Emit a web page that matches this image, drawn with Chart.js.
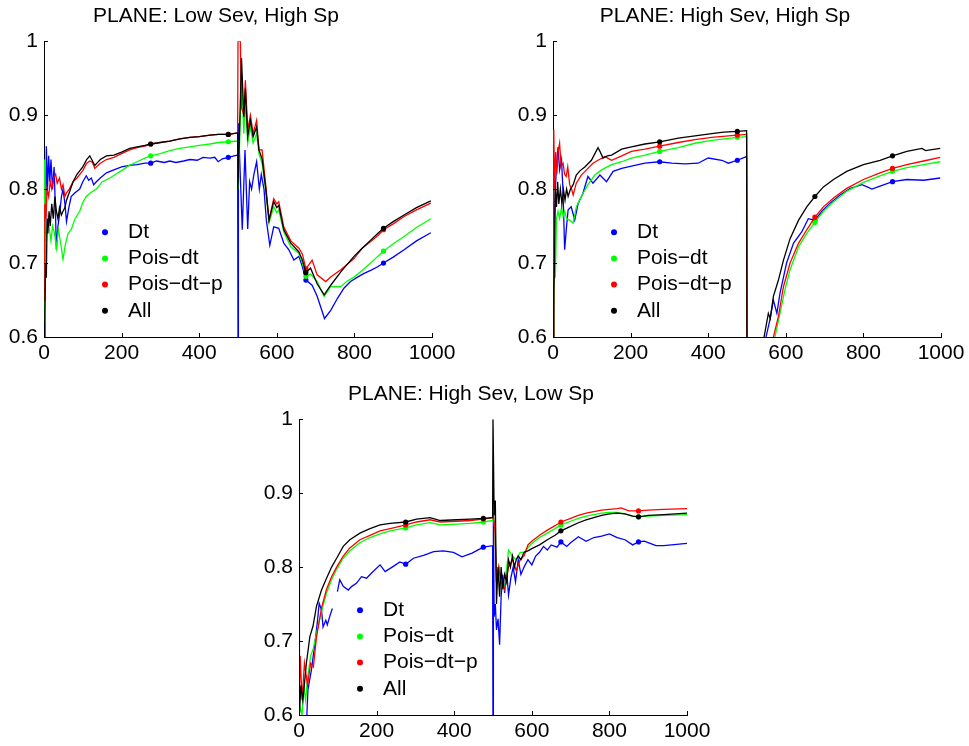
<!DOCTYPE html>
<html>
<head>
<meta charset="utf-8">
<script src="https://cdn.jsdelivr.net/npm/chart.js@4.4.1/dist/chart.umd.min.js"></script>
<style>
  html, body { margin: 0; padding: 0; background: #fff; overflow: hidden; }
  body { width: 969px; height: 746px; position: relative; }
  canvas { position: absolute; }
</style>
</head>
<body>
<canvas id="low-sev-high-sp" width="476" height="370" style="left:0;top:0"></canvas>
<canvas id="high-sev-high-sp" width="476" height="370" style="left:509px;top:0"></canvas>
<canvas id="high-sev-low-sp" width="476" height="368" style="left:255px;top:378px"></canvas>
<script>
// Series names, colours and axis ticks
const seriesNames = ['Dt', 'Pois\u2212dt', 'Pois\u2212dt\u2212p', 'All'];
const seriesColors = ['#0000ff', '#00ff00', '#ff0000', '#000000'];
const xTicks = [0, 200, 400, 600, 800, 1000];
const yTicks = [0.6, 0.7, 0.8, 0.9, 1];
const markerSteps = [275, 475, 675, 875];

// PLANE: Low Sev, High Sp  ([step, accuracy])
const lowHighDt = [[0,0.60],[2,0.77],[4,0.74],[6,0.858],[9,0.80],[12,0.845],[15,0.81],[18,0.84],[22,0.80],[26,0.83],[29,0.78],[32,0.718],[36,0.75],[40,0.765],[45,0.79],[49,0.80],[54,0.78],[58,0.756],[64,0.775],[70,0.79],[80,0.795],[92,0.80],[100,0.81],[109,0.818],[115,0.812],[122,0.815],[128,0.806],[135,0.81],[145,0.815],[161,0.822],[180,0.826],[200,0.83],[220,0.832],[240,0.833],[260,0.835],[275,0.835],[290,0.838],[310,0.836],[324,0.838],[340,0.836],[360,0.838],[376,0.84],[395,0.839],[410,0.843],[428,0.842],[440,0.843],[449,0.837],[460,0.841],[475,0.843],[490,0.845],[499,0.846],[500,0.6],[501,0.889],[511,0.745],[518,0.853],[525,0.746],[530,0.81],[535,0.80],[541,0.82],[548,0.837],[555,0.80],[560,0.82],[567,0.80],[573,0.758],[582,0.724],[592,0.749],[605,0.747],[618,0.727],[631,0.718],[644,0.704],[657,0.709],[666,0.695],[675,0.677],[691,0.67],[704,0.655],[723,0.625],[739,0.636],[756,0.652],[773,0.666],[790,0.675],[808,0.681],[825,0.686],[842,0.69],[860,0.695],[875,0.70],[900,0.708],[928,0.718],[960,0.73],[997,0.741]];
const lowHighPoisDt = [[0,0.62],[1,0.84],[3,0.76],[6,0.73],[10,0.76],[14,0.745],[18,0.73],[22,0.75],[27,0.74],[32,0.72],[37,0.745],[42,0.73],[49,0.705],[55,0.725],[62,0.74],[70,0.745],[80,0.76],[92,0.77],[100,0.782],[109,0.79],[120,0.795],[135,0.80],[150,0.81],[170,0.815],[185,0.82],[200,0.825],[220,0.832],[240,0.837],[260,0.842],[275,0.845],[300,0.848],[324,0.852],[350,0.855],[376,0.857],[400,0.859],[428,0.861],[450,0.863],[475,0.864],[499,0.865],[501,0.80],[509,0.956],[515,0.875],[519,0.92],[525,0.862],[532,0.884],[539,0.862],[548,0.875],[554,0.848],[562,0.835],[571,0.80],[580,0.754],[592,0.776],[600,0.768],[605,0.772],[618,0.742],[636,0.722],[657,0.713],[666,0.70],[675,0.682],[687,0.685],[704,0.675],[722,0.655],[739,0.668],[765,0.668],[780,0.675],[799,0.681],[820,0.69],[842,0.70],[860,0.709],[875,0.716],[900,0.726],[928,0.736],[960,0.748],[997,0.76]];
const lowHighPoisDtP = [[0,0.65],[2,0.78],[5,0.76],[8,0.80],[12,0.79],[16,0.81],[20,0.80],[25,0.815],[30,0.82],[34,0.808],[40,0.815],[45,0.80],[49,0.806],[54,0.79],[58,0.795],[65,0.80],[75,0.81],[85,0.815],[100,0.825],[110,0.835],[118,0.838],[125,0.836],[131,0.828],[145,0.835],[161,0.84],[180,0.843],[200,0.848],[221,0.853],[240,0.856],[260,0.858],[275,0.861],[300,0.863],[324,0.865],[350,0.868],[376,0.87],[400,0.871],[428,0.873],[450,0.874],[475,0.874],[499,0.876],[500,1.0],[506,1.0],[509,0.91],[515,0.90],[519,0.947],[525,0.88],[532,0.90],[539,0.875],[548,0.893],[554,0.853],[562,0.853],[571,0.808],[580,0.758],[592,0.787],[600,0.78],[605,0.783],[618,0.749],[636,0.73],[657,0.72],[666,0.712],[675,0.692],[691,0.704],[704,0.684],[726,0.675],[739,0.681],[765,0.691],[799,0.706],[820,0.72],[842,0.729],[860,0.737],[875,0.745],[900,0.753],[928,0.763],[960,0.772],[997,0.781]];
const lowHighAll = [[0,0.60],[2,0.63],[4,0.70],[6,0.68],[8,0.76],[10,0.74],[13,0.77],[16,0.75],[20,0.78],[24,0.76],[28,0.79],[32,0.77],[36,0.76],[40,0.775],[45,0.765],[49,0.77],[54,0.775],[58,0.785],[65,0.795],[75,0.81],[85,0.82],[100,0.83],[110,0.84],[118,0.845],[125,0.838],[131,0.832],[145,0.84],[161,0.845],[180,0.846],[200,0.85],[221,0.855],[240,0.857],[260,0.859],[275,0.861],[300,0.863],[324,0.865],[350,0.868],[376,0.87],[400,0.871],[428,0.873],[450,0.874],[475,0.874],[499,0.876],[500,0.80],[509,0.977],[515,0.898],[519,0.936],[525,0.871],[532,0.893],[539,0.871],[548,0.884],[554,0.853],[562,0.841],[571,0.803],[580,0.758],[592,0.783],[600,0.775],[605,0.778],[618,0.745],[636,0.727],[657,0.715],[666,0.704],[675,0.687],[687,0.693],[704,0.672],[722,0.657],[739,0.67],[765,0.688],[799,0.709],[820,0.72],[842,0.731],[860,0.74],[875,0.747],[900,0.756],[928,0.765],[960,0.775],[997,0.784]];

// PLANE: High Sev, High Sp
const highHighDt = [[0,0.60],[3,0.75],[6,0.80],[9,0.83],[13,0.857],[17,0.826],[22,0.84],[26,0.794],[30,0.718],[35,0.75],[39,0.772],[47,0.776],[56,0.758],[65,0.781],[77,0.794],[90,0.817],[103,0.808],[121,0.819],[138,0.81],[155,0.824],[177,0.828],[202,0.831],[237,0.835],[275,0.837],[306,0.835],[340,0.834],[374,0.835],[400,0.842],[435,0.839],[452,0.835],[475,0.839],[499,0.844],[500,0.55],[545,0.57],[549,0.60],[559,0.623],[568,0.65],[577,0.632],[585,0.659],[602,0.70],[620,0.727],[641,0.742],[658,0.76],[675,0.758],[693,0.77],[714,0.781],[740,0.792],[766,0.801],[796,0.806],[810,0.803],[822,0.80],[843,0.804],[875,0.81],[912,0.813],[955,0.812],[998,0.815]];
const highHighPoisDt = [[0,0.60],[2,0.63],[4,0.70],[6,0.68],[9,0.76],[13,0.77],[17,0.76],[22,0.775],[26,0.763],[30,0.77],[35,0.76],[43,0.758],[52,0.754],[60,0.776],[73,0.79],[90,0.806],[108,0.819],[125,0.826],[151,0.833],[177,0.837],[202,0.842],[237,0.846],[275,0.851],[323,0.856],[366,0.862],[409,0.866],[475,0.87],[499,0.871],[500,0.55],[560,0.56],[572,0.60],[585,0.632],[598,0.664],[611,0.691],[633,0.722],[654,0.74],[675,0.755],[697,0.77],[723,0.783],[757,0.797],[800,0.809],[843,0.818],[875,0.824],[912,0.829],[955,0.833],[998,0.837]];
const highHighPoisDtP = [[0,0.60],[2,0.88],[4,0.80],[7,0.85],[10,0.82],[13,0.85],[17,0.862],[21,0.83],[26,0.835],[30,0.82],[34,0.817],[38,0.83],[43,0.806],[48,0.80],[52,0.792],[60,0.808],[73,0.819],[90,0.828],[103,0.835],[116,0.839],[134,0.844],[151,0.839],[177,0.845],[202,0.851],[237,0.854],[275,0.858],[323,0.863],[366,0.867],[409,0.87],[475,0.873],[499,0.874],[500,0.55],[560,0.56],[568,0.60],[581,0.628],[594,0.668],[611,0.70],[633,0.727],[654,0.745],[675,0.762],[697,0.776],[723,0.788],[757,0.801],[800,0.813],[843,0.822],[875,0.828],[912,0.833],[955,0.838],[998,0.843]];
const highHighAll = [[0,0.60],[2,0.66],[4,0.704],[6,0.80],[9,0.776],[12,0.81],[15,0.78],[19,0.80],[23,0.78],[27,0.799],[31,0.785],[35,0.80],[39,0.79],[45,0.80],[52,0.806],[60,0.819],[70,0.825],[82,0.83],[99,0.839],[108,0.848],[116,0.856],[122,0.85],[129,0.842],[140,0.845],[151,0.846],[177,0.854],[202,0.857],[237,0.861],[275,0.864],[323,0.869],[366,0.872],[409,0.875],[440,0.877],[475,0.878],[499,0.879],[500,0.55],[540,0.56],[544,0.60],[555,0.632],[560,0.625],[568,0.655],[581,0.677],[594,0.704],[611,0.733],[633,0.758],[654,0.776],[675,0.79],[697,0.803],[723,0.813],[757,0.824],[800,0.833],[843,0.839],[875,0.845],[912,0.851],[951,0.855],[960,0.852],[998,0.855]];

// PLANE: High Sev, Low Sp
const highLowDt = [[0,1.0],[1,0.5],[17,0.56],[23,0.634],[32,0.661],[41,0.697],[47,0.724],[52,0.751],[58,0.742],[62,0.719],[69,0.728],[73,0.722],[79,0.733],[86,0.744],[93,null],[99,0.767],[105,0.783],[114,0.774],[127,0.769],[136,0.774],[148,0.778],[161,0.787],[174,0.785],[187,0.792],[209,0.803],[222,0.794],[243,0.801],[260,0.807],[275,0.804],[295,0.812],[321,0.816],[347,0.821],[372,0.822],[398,0.82],[420,0.814],[446,0.819],[475,0.827],[499,0.829],[500,0.55],[501,0.87],[503,0.733],[506,0.75],[509,0.715],[513,0.73],[517,0.695],[521,0.76],[525,0.79],[530,0.765],[535,0.796],[540,0.762],[546,0.785],[552,0.80],[558,0.78],[565,0.81],[572,0.79],[580,0.80],[590,0.81],[600,0.803],[610,0.815],[620,0.82],[630,0.828],[640,0.823],[650,0.83],[665,0.827],[675,0.834],[690,0.828],[700,0.833],[720,0.841],[740,0.835],[760,0.84],[780,0.842],[800,0.845],[820,0.84],[840,0.837],[860,0.83],[875,0.834],[890,0.835],[905,0.832],[920,0.829],[940,0.829],[960,0.83],[1000,0.832]];
const highLowPoisDt = [[0,0.60],[3,0.61],[8,0.60],[12,0.64],[17,0.62],[22,0.65],[30,0.68],[37,0.69],[45,0.71],[58,0.74],[71,0.765],[84,0.783],[97,0.797],[114,0.812],[131,0.822],[157,0.833],[183,0.84],[209,0.845],[235,0.849],[275,0.853],[303,0.857],[338,0.86],[364,0.857],[407,0.858],[441,0.859],[475,0.861],[499,0.863],[501,0.87],[505,0.85],[509,0.78],[515,0.80],[520,0.78],[530,0.77],[540,0.823],[550,0.815],[560,0.81],[570,0.82],[580,0.82],[590,0.826],[600,0.832],[620,0.84],[640,0.846],[660,0.852],[675,0.857],[700,0.862],[720,0.866],[740,0.869],[760,0.871],[780,0.873],[800,0.874],[820,0.874],[840,0.872],[860,0.869],[875,0.868],[900,0.869],[940,0.87],[1000,0.871]];
const highLowPoisDtP = [[0,0.60],[3,0.68],[8,0.62],[14,0.67],[22,0.64],[30,0.67],[37,0.665],[45,0.705],[58,0.745],[71,0.77],[84,0.787],[97,0.80],[114,0.815],[131,0.826],[157,0.837],[183,0.843],[209,0.849],[235,0.852],[275,0.857],[303,0.861],[338,0.864],[364,0.861],[407,0.862],[441,0.863],[475,0.865],[499,0.867],[501,0.87],[505,0.85],[509,0.78],[515,0.80],[520,0.78],[530,0.77],[540,0.80],[550,0.81],[560,0.795],[570,0.81],[580,0.815],[590,0.83],[600,0.835],[620,0.843],[640,0.85],[660,0.856],[675,0.861],[700,0.866],[720,0.87],[740,0.873],[760,0.875],[780,0.877],[800,0.878],[820,0.879],[830,0.88],[850,0.876],[875,0.876],[900,0.877],[940,0.878],[1000,0.879]];
const highLowAll = [[0,1.0],[1,0.60],[5,0.64],[10,0.62],[19,0.67],[28,0.706],[36,0.72],[45,0.747],[58,0.769],[71,0.785],[84,0.80],[97,0.812],[114,0.828],[131,0.837],[157,0.846],[183,0.852],[209,0.857],[235,0.859],[275,0.861],[303,0.865],[338,0.867],[364,0.863],[407,0.864],[441,0.865],[475,0.866],[499,0.867],[500,1.0],[503,0.87],[506,0.89],[509,0.75],[513,0.80],[517,0.76],[521,0.80],[525,0.77],[530,0.79],[535,0.78],[540,0.81],[545,0.80],[550,0.815],[555,0.80],[560,0.81],[565,0.815],[572,0.81],[580,0.82],[590,0.822],[600,0.825],[620,0.83],[640,0.837],[660,0.843],[675,0.849],[700,0.855],[720,0.86],[740,0.864],[760,0.867],[780,0.87],[800,0.872],[820,0.873],[840,0.872],[860,0.869],[875,0.868],[900,0.87],[940,0.871],[1000,0.873]];

const fontFamily = '"Liberation Sans", Arial, Helvetica, sans-serif';
Chart.defaults.font.family = fontFamily;
Chart.defaults.color = '#000';

// legend drawn inside the axes, like the MATLAB one
const insideLegend = {
    id: 'insideLegend',
    afterDraw(chart) {
        const { ctx, chartArea } = chart;
        ctx.save();
        ctx.font = '21px ' + fontFamily;
        ctx.textBaseline = 'middle';
        ctx.textAlign = 'left';
        chart.data.datasets.forEach((ds, i) => {
            const y = chartArea.top + 191 + i * 26.2;
            ctx.fillStyle = ds.borderColor;
            ctx.beginPath();
            ctx.arc(chartArea.left + 61, y, 3, 0, Math.PI * 2);
            ctx.fill();
            ctx.fillStyle = '#000';
            ctx.fillText(ds.label, chartArea.left + 84, y);
        });
        ctx.restore();
    }
};

// tick marks pointing into the plot
const inwardTicks = {
    id: 'inwardTicks',
    afterDraw(chart) {
        const { ctx, chartArea, scales } = chart;
        ctx.save();
        ctx.strokeStyle = '#000';
        ctx.lineWidth = 1;
        ctx.beginPath();
        xTicks.forEach(v => {
            const px = Math.round(scales.x.getPixelForValue(v)) + 0.5;
            ctx.moveTo(px, chartArea.bottom);
            ctx.lineTo(px, chartArea.bottom - 4);
        });
        yTicks.forEach(v => {
            const py = Math.round(scales.y.getPixelForValue(v)) + 0.5;
            ctx.moveTo(chartArea.left, py);
            ctx.lineTo(chartArea.left + 4, py);
        });
        ctx.stroke();
        ctx.restore();
    }
};

function createPlaneChart(canvasId, title, seriesList, xAxisHeight) {
    const datasets = seriesList.map((points, i) => ({
        label: seriesNames[i],
        data: points.map(([x, y]) => ({ x: x, y: y })),
        borderColor: seriesColors[i],
        backgroundColor: seriesColors[i],
        borderWidth: 1.3,
        tension: 0,
        fill: false,
        spanGaps: false,
        order: seriesList.length - i,
        pointRadius: ctx => (ctx.raw && markerSteps.includes(ctx.raw.x)) ? 2.6 : 0,
        pointBorderWidth: 0,
        pointHoverRadius: 0
    }));

    return new Chart(document.getElementById(canvasId), {
        type: 'line',
        data: { datasets: datasets },
        plugins: [insideLegend, inwardTicks],
        options: {
            responsive: false,
            animation: false,
            devicePixelRatio: 1,
            events: [],
            layout: { padding: { left: 0, right: 44, top: 0, bottom: 0 } },
            plugins: {
                legend: { display: false },
                tooltip: { enabled: false },
                title: {
                    display: true,
                    text: title,
                    color: '#000',
                    font: { size: 21, weight: 'normal', family: fontFamily },
                    padding: { top: 4, bottom: 12 }
                }
            },
            scales: {
                x: {
                    type: 'linear',
                    min: 0,
                    max: 1000,
                    grid: { display: false, drawTicks: false },
                    border: { display: true, color: '#000', width: 1 },
                    ticks: { color: '#000', font: { size: 21 }, padding: 4, maxRotation: 0, autoSkip: false, callback: v => String(v) },
                    afterBuildTicks: scale => { scale.ticks = xTicks.map(v => ({ value: v })); },
                    afterFit: scale => { scale.height = xAxisHeight; }
                },
                y: {
                    type: 'linear',
                    min: 0.6,
                    max: 1,
                    grid: { display: false, drawTicks: false },
                    border: { display: true, color: '#000', width: 1 },
                    ticks: { color: '#000', font: { size: 21 }, padding: 6, callback: v => String(Math.round(v * 10) / 10) },
                    afterBuildTicks: scale => { scale.ticks = yTicks.map(v => ({ value: v })); },
                    afterFit: scale => { scale.width = 44; }
                }
            }
        }
    });
}

createPlaneChart('low-sev-high-sp', 'PLANE: Low Sev, High Sp',
    [lowHighDt, lowHighPoisDt, lowHighPoisDtP, lowHighAll], 33);
createPlaneChart('high-sev-high-sp', 'PLANE: High Sev, High Sp',
    [highHighDt, highHighPoisDt, highHighPoisDtP, highHighAll], 33);
createPlaneChart('high-sev-low-sp', 'PLANE: High Sev, Low Sp',
    [highLowDt, highLowPoisDt, highLowPoisDtP, highLowAll], 31);
</script>
</body>
</html>
